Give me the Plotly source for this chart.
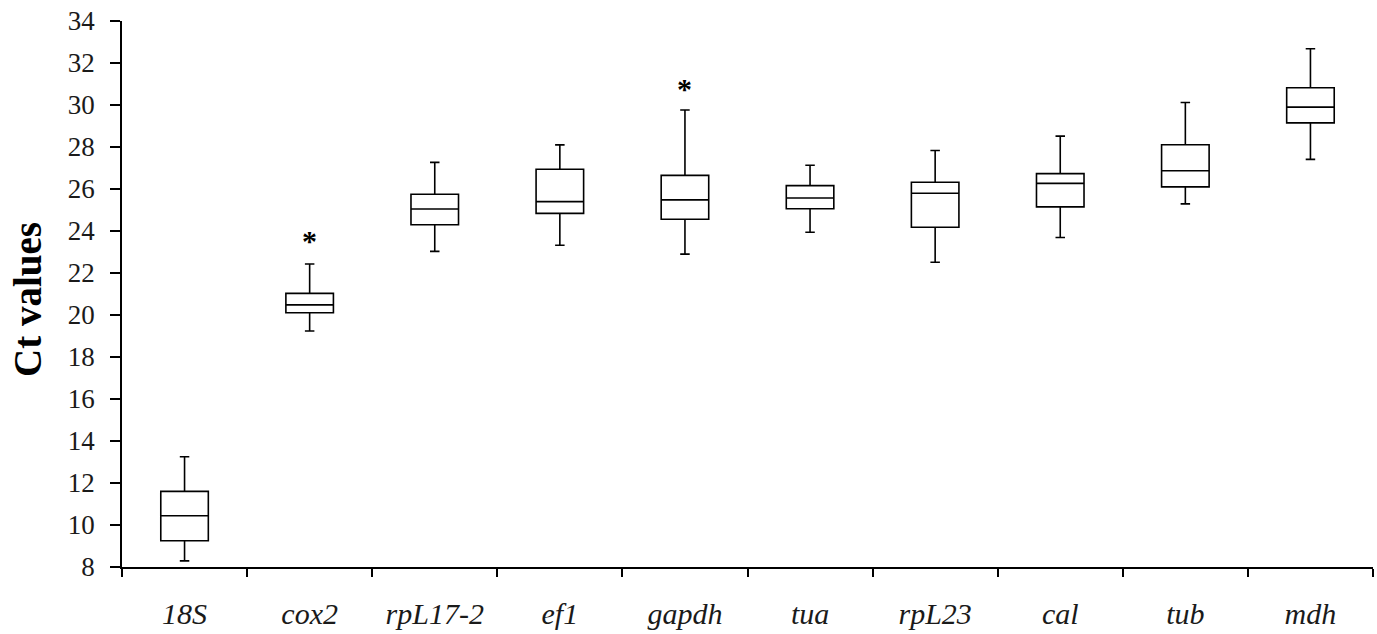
import plotly.graph_objects as go

genes = ["18S", "cox2", "rpL17-2", "ef1", "gapdh", "tua", "rpL23", "cal", "tub", "mdh"]
lower_whisker = [8.29, 19.24, 23.03, 23.32, 22.90, 23.94, 22.51, 23.69, 25.29, 27.41]
q1_values = [9.25, 20.11, 24.30, 24.84, 24.56, 25.06, 24.18, 25.15, 26.10, 29.15]
median_values = [10.44, 20.48, 25.05, 25.40, 25.48, 25.57, 25.80, 26.27, 26.87, 29.90]
q3_values = [11.60, 21.03, 25.75, 26.94, 26.65, 26.16, 26.32, 26.73, 28.11, 30.82]
upper_whisker = [13.25, 22.43, 27.27, 28.10, 29.76, 27.13, 27.83, 28.52, 30.12, 32.68]

star_genes = ["cox2", "gapdh"]
star_y = [23.57, 30.80]

y_ticks = list(range(8, 35, 2))

fig = go.Figure()
fig.add_trace(go.Box(
    x=genes,
    q1=q1_values,
    median=median_values,
    q3=q3_values,
    lowerfence=lower_whisker,
    upperfence=upper_whisker,
    boxpoints=False,
    fillcolor="white",
    line=dict(color="black", width=1.6),
    whiskerwidth=0.2,
    width=0.38,
    showlegend=False,
    hoverinfo="skip",
))

for g, yv in zip(star_genes, star_y):
    fig.add_annotation(
        x=g, y=yv, text="<b>*</b>", showarrow=False,
        font=dict(family="Liberation Serif", size=30, color="black"),
        yanchor="middle", xanchor="center",
    )

serif = "Liberation Serif"

# y-axis title as rotated annotation
fig.add_annotation(
    xref="paper", yref="paper", x=-0.0755, y=0.49,
    text="<b>Ct values</b>", textangle=-90, showarrow=False,
    font=dict(family=serif, size=39, color="black"),
    xanchor="center", yanchor="middle",
)

fig.update_layout(
    width=1377, height=634,
    margin=dict(l=122, r=4, t=21, b=67),
    paper_bgcolor="white", plot_bgcolor="white",
    font=dict(family=serif, color="#1a1a1a"),
    xaxis=dict(
        range=[-0.5, 9.5],
        automargin=False,
        showline=True, linecolor="black", linewidth=1.5,
        ticks="outside", tickson="boundaries", ticklen=8, tickwidth=1.5, tickcolor="black",
        tickfont=dict(family=serif, size=30, style="italic", color="#1a1a1a"),
        ticklabelstandoff=19,
        ticklabeloverflow="allow",
        showgrid=False, zeroline=False,
    ),
    yaxis=dict(
        range=[8, 34],
        automargin=False,
        tickvals=y_ticks,
        showline=True, linecolor="black", linewidth=1.5,
        ticks="outside", ticklen=10, tickwidth=1.5, tickcolor="black",
        tickfont=dict(family=serif, size=27, color="#1a1a1a"),
        ticklabelstandoff=10,
        ticklabeloverflow="allow",
        showgrid=False, zeroline=False,
    ),
)

fig.write_html(
    "out.html",
    config={"displayModeBar": False},
    post_script="document.body.style.margin='0';document.body.style.overflow='hidden';",
)
